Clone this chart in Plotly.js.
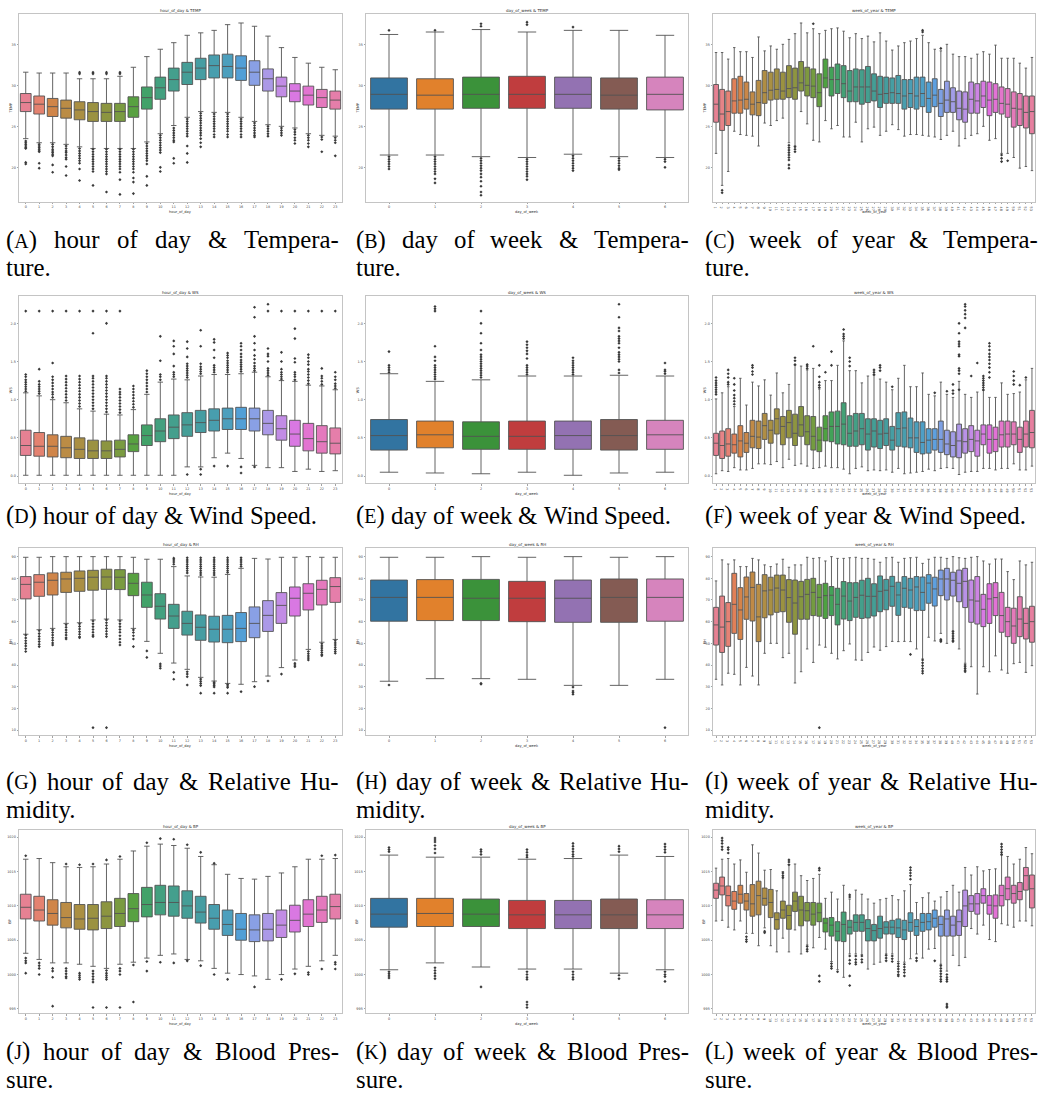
<!DOCTYPE html>
<html><head><meta charset="utf-8">
<script src="https://cdn.plot.ly/plotly-3.0.1.min.js"></script>
<style>html,body{margin:0;padding:0;background:#fff}#chart{width:1038px;height:1094px}</style>
</head><body><div id="chart"></div>
<script>
// ================= DATA =================
const hourLabels = ['0','1','2','3','4','5','6','7','8','9','10','11','12','13','14','15','16','17','18','19','20','21','22','23'];
const dayLabels = ['0','1','2','3','4','5','6'];
const weekLabels = ['1','2','3','4','5','6','7','8','9','10','11','12','13','14','15','16','17','18','19','20',
 '21','22','23','24','25','26','27','28','29','30','31','32','33','34','35','36','37','38','39','40',
 '41','42','43','44','45','46','47','48','49','50','51','52','53'];

// ---- (A) hour_of_day & TEMP
const tempHourLow  = [23.5,23.0,23.0,22.8,22.5,22.3,22.3,22.3,22.3,23.1,24.1,25.1,26.1,26.8,26.7,26.7,26.1,25.6,25.2,25.0,24.8,24.1,23.9,23.8];
const tempHourQ1   = [26.8,26.5,26.2,26.0,25.8,25.6,25.6,25.6,26.1,27.1,28.3,29.3,30.1,30.7,30.9,30.9,30.6,30.0,29.3,28.6,28.0,27.6,27.3,27.1];
const tempHourMed  = [27.9,27.7,27.4,27.2,27.0,26.8,26.7,26.8,27.4,28.5,29.7,30.7,31.6,32.1,32.4,32.3,32.1,31.6,30.8,29.9,29.3,28.8,28.5,28.2];
const tempHourQ3   = [29.0,28.7,28.4,28.2,28.0,27.9,27.8,27.8,28.6,29.8,31.0,32.1,32.8,33.3,33.7,33.8,33.6,33.0,32.0,31.0,30.2,29.9,29.5,29.3];
const tempHourHigh = [31.6,31.5,31.5,31.5,30.8,30.8,30.8,31.1,32.2,33.5,34.4,35.2,36.1,36.4,36.7,37.4,37.6,37.2,36.0,34.6,33.4,32.7,32.2,31.9];
const tempHourOut = [
 [23.2,23.0,22.8,22.6,22.4,22.3,20.6,20.4],
 [22.8,22.6,22.4,22.2,22.0,21.9,20.5,19.9],
 [22.8,22.5,22.2,22.0,21.8,21.6,21.4,20.3,19.4],
 [22.6,22.3,22.0,21.8,21.5,21.2,21.0,20.1,19.0],
 [31.6,31.4,22.3,22.0,21.7,21.4,21.1,20.8,20.5,19.8,18.4],
 [31.6,31.4,22.2,21.9,21.6,21.3,21.0,20.7,20.4,20.1,19.8,19.5,17.8],
 [31.6,31.4,22.2,21.9,21.6,21.3,21.0,20.7,20.4,20.1,19.8,19.5,19.2,17.0],
 [31.6,31.4,22.2,21.9,21.6,21.3,21.0,20.7,20.4,20.1,19.8,19.4,18.5,16.7],
 [22.2,21.9,21.6,21.3,21.0,20.7,20.4,20.1,19.8,19.4,18.7,18.2,16.8],
 [22.9,22.6,22.3,22.0,21.7,21.4,21.1,20.8,20.4,18.9,17.8],
 [23.9,23.6,23.3,23.0,22.7,22.4,22.1,21.8,20.0,19.5],
 [24.8,24.5,24.2,23.9,23.6,23.3,23.1,21.1,20.5],
 [25.9,25.6,25.3,25.0,24.7,24.4,24.1,23.8,22.6,21.7,20.6],
 [26.6,26.3,26.0,25.7,25.4,25.1,24.8,24.5,24.2,23.9,23.5,23.0,22.5],
 [26.5,26.2,25.9,25.6,25.3,25.0,24.7,24.4,24.0,23.7],
 [26.5,26.2,25.9,25.6,25.3,25.0,24.7,24.4,24.0,23.7],
 [25.9,25.6,25.3,25.0,24.7,24.4,24.0,23.7],
 [25.4,25.1,24.8,24.5,24.2,23.9,23.7],
 [25.0,24.7,24.4,24.1,23.8],
 [24.8,24.5,24.2,23.9],
 [24.6,24.3,24.0,23.6,23.3,22.9],
 [23.9,23.6,23.3,22.9,22.5],
 [23.7,23.4,21.9],
 [23.6,23.3,23.0,21.4]];

// ---- (B) day_of_week & TEMP
const tempDayLow  = [21.5,21.5,21.3,21.2,21.6,21.3,21.2];
const tempDayQ1   = [27.1,27.1,27.2,27.2,27.2,27.1,27.0];
const tempDayMed  = [28.9,28.8,28.9,28.9,28.9,28.8,28.9];
const tempDayQ3   = [30.9,30.8,31.0,31.1,31.0,30.9,31.0];
const tempDayHigh = [36.2,36.5,36.8,36.5,36.7,36.7,36.1];
const tempDayOut = [
 [36.7,21.3,21.0,20.7,20.4,20.1,19.8],
 [36.7,21.3,21.0,20.7,20.4,20.1,19.8,19.5,19.2,18.6,18.1],
 [37.5,37.2,21.1,20.8,20.5,20.2,19.9,19.6,19.2,18.8,18.3,17.7,17.0,16.6],
 [37.7,37.4,21.0,20.7,20.4,20.1,19.8,19.5,19.2,18.9,18.5],
 [37.1,21.4,21.1,20.8,20.5,20.2,19.9,19.6],
 [21.1,20.8,20.5,20.2,19.9,19.7],
 [21.0,20.7,20.0]];

// ---- (C) week_of_year & TEMP
const tempWeekLow = [21.7,17.8,19.5,24.4,24.0,23.9,23.8,22.6,25.4,25.1,
 25.7,26.0,23.0,22.6,26.8,25.3,23.3,23.1,25.7,24.7,
 25.1,23.7,23.7,25.5,23.1,24.7,24.9,23.9,24.4,25.2,
 24.6,23.8,24.0,24.0,23.9,23.8,23.7,23.4,23.9,24.4,
 22.6,23.5,23.9,24.1,25.0,23.3,23.5,21.7,21.7,21.2,
 19.9,20.1,19.6];
const tempWeekQ1 = [25.5,24.5,25.1,26.6,26.6,27.1,26.4,26.3,27.8,28.2,
 28.3,28.3,28.5,28.3,29.3,28.7,28.5,27.4,29.7,28.7,
 29.0,28.5,28.0,28.0,27.7,27.9,28.1,27.3,27.8,27.8,
 27.8,27.1,27.3,27.1,27.4,26.7,27.4,26.2,26.7,26.7,
 25.8,25.5,26.6,26.6,27.3,26.3,26.7,26.5,26.1,24.9,
 25.1,24.8,24.1];
const tempWeekMed = [27.7,26.5,26.8,28.1,28.2,28.3,27.7,27.9,29.1,29.4,
 29.5,29.3,29.6,29.7,30.3,30.0,29.9,29.1,30.9,30.7,
 30.7,30.2,29.3,29.8,29.8,29.8,29.3,28.9,29.0,29.1,
 29.0,28.7,29.0,28.7,29.0,28.4,28.8,27.8,28.2,28.0,
 27.2,27.1,28.3,28.1,28.7,28.2,28.3,27.8,27.7,27.2,
 27.1,26.7,26.8];
const tempWeekQ3 = [30.1,29.5,29.3,30.8,31.1,30.4,29.2,30.6,31.8,31.6,
 32.0,31.6,32.4,32.1,32.9,32.2,32.0,31.4,33.2,32.2,
 32.6,32.4,31.8,32.0,31.9,32.3,31.4,31.1,31.0,30.9,
 31.2,30.7,30.7,31.0,31.0,30.4,30.8,29.5,30.5,29.7,
 29.3,29.2,30.4,30.2,30.5,30.4,30.2,29.8,29.6,29.2,
 29.0,28.7,28.7];
const tempWeekHigh = [34.0,34.0,33.2,34.6,34.1,34.1,33.4,35.9,34.2,34.8,
 34.4,35.0,35.6,36.3,37.6,36.4,36.9,36.3,36.7,36.9,
 37.0,36.6,35.8,36.3,35.7,36.0,35.3,36.4,35.4,34.3,
 34.8,35.2,35.4,35.7,36.1,35.2,34.4,34.2,35.0,33.8,
 33.5,33.5,33.3,33.8,34.1,33.8,34.9,33.3,33.3,33.3,
 32.7,32.1,33.4];
const tempWeekOut = {1:[17.2,16.9], 12:[22.7,22.4,22.1,21.8,21.5,21.2,20.9,20.3,19.9], 13:[22.5,22.2,21.9],
 16:[37.5], 34:[36.7,36.5], 37:[34.5], 47:[21.5,21.1,20.7], 48:[20.8]};

// ---- (D) hour_of_day & WS
const wsHourLow  = [0.01,0.01,0.01,0.01,0.01,0.01,0.01,0.01,0.01,0.01,0.01,0.01,0.12,0.12,0.24,0.30,0.23,0.14,0.11,0.11,0.06,0.09,0.06,0.07];
const wsHourQ1   = [0.27,0.26,0.25,0.24,0.23,0.23,0.23,0.25,0.32,0.40,0.45,0.49,0.52,0.57,0.59,0.61,0.61,0.59,0.54,0.47,0.39,0.33,0.30,0.29];
const wsHourMed  = [0.40,0.39,0.39,0.37,0.35,0.33,0.33,0.35,0.42,0.53,0.59,0.64,0.67,0.70,0.73,0.75,0.75,0.75,0.69,0.62,0.55,0.49,0.45,0.43];
const wsHourQ3   = [0.60,0.57,0.54,0.52,0.50,0.47,0.46,0.47,0.54,0.67,0.75,0.80,0.83,0.86,0.88,0.89,0.90,0.89,0.86,0.79,0.73,0.69,0.66,0.63];
const wsHourHigh = [1.09,1.05,1.00,0.96,0.88,0.85,0.81,0.80,0.87,1.07,1.23,1.27,1.26,1.31,1.33,1.33,1.34,1.36,1.30,1.25,1.24,1.19,1.18,1.13];
const wsHourOut = [
 [1.11,1.14,1.17,1.20,1.23,1.26,1.30,1.33,2.16],
 [1.08,1.11,1.14,1.17,1.20,1.24,1.40,2.16],
 [1.03,1.07,1.10,1.14,1.18,1.22,1.26,1.30,1.48,2.16],
 [0.99,1.03,1.07,1.11,1.15,1.19,1.23,1.27,1.31,2.16],
 [0.91,0.95,0.99,1.03,1.07,1.11,1.15,1.19,1.23,1.27,1.31,2.16],
 [0.88,0.92,0.96,1.00,1.04,1.08,1.12,1.16,1.20,1.24,1.28,1.31,1.87,2.16],
 [0.84,0.88,0.92,0.96,1.00,1.04,1.08,1.12,1.16,1.20,1.24,1.28,1.31,2.00,2.16],
 [0.83,0.87,0.91,0.95,0.99,1.03,1.07,1.10,1.14,2.16],
 [0.90,0.94,0.98,1.02,1.06,1.10,1.14,1.18],
 [1.10,1.14,1.18,1.22,1.26,1.30,1.34,1.38],
 [1.26,1.30,1.33,1.51,1.83],
 [1.30,1.33,1.36,1.44,1.60,1.70,1.77],
 [1.29,1.32,1.35,1.38,1.41,1.44,1.47,1.56,1.67,1.76,0.02],
 [1.34,1.37,1.40,1.43,1.47,1.70,1.91,0.09,0.02],
 [1.36,1.39,1.42,1.45,1.55,1.65,1.75,1.79,0.13],
 [1.36,1.39,1.42,1.45,1.48,1.51,1.55,1.58,1.61,0.13],
 [1.37,1.40,1.43,1.46,1.49,1.52,1.56,1.60,1.65,1.70,1.74,0.12,0.04],
 [1.38,1.41,1.44,1.48,1.53,1.58,1.65,1.74,1.83,2.08,2.21,0.12],
 [1.32,1.35,1.38,1.41,1.50,1.57,1.60,1.67,2.16,2.25],
 [1.27,1.30,1.33,1.36,1.40,1.50,1.62,2.16],
 [1.26,1.30,1.33,1.36,1.49,1.54,1.80,1.93,2.16],
 [1.21,1.25,1.29,1.33,1.37,1.40,1.46,1.50,1.55,1.59,2.16],
 [1.20,1.24,1.28,1.31,1.41,2.16],
 [1.15,1.18,1.21,1.26,1.30,1.36,2.16]];

// ---- (E) day_of_week & WS
const wsDayLow  = [0.05,0.04,0.03,0.05,0.01,0.04,0.05];
const wsDayQ1   = [0.34,0.37,0.35,0.35,0.35,0.34,0.35];
const wsDayMed  = [0.53,0.54,0.52,0.52,0.53,0.53,0.54];
const wsDayQ3   = [0.74,0.72,0.71,0.72,0.72,0.74,0.73];
const wsDayHigh = [1.34,1.24,1.26,1.31,1.31,1.32,1.31];
const wsDayOut = [
 [1.36,1.39,1.42,1.45,1.63],
 [1.27,1.30,1.33,1.36,1.39,1.42,1.45,1.51,1.56,1.70,2.16,2.19,2.22],
 [1.29,1.32,1.35,1.38,1.41,1.44,1.47,1.50,1.53,1.56,1.59,1.65,1.74,1.87,2.00,2.16],
 [1.33,1.36,1.39,1.42,1.45,1.54,1.60,1.64,1.68,1.72,1.76],
 [1.33,1.36,1.39,1.42,1.45,1.48,1.51,1.55],
 [1.35,1.39,1.50,1.53,1.56,1.59,1.62,1.68,1.74,1.77,1.80,1.83,1.90,1.94,2.08,2.25],
 [1.34,1.37,1.39,1.48]];

// ---- (F) week_of_year & WS
const wsWeekLow = [0.03,0.07,0.06,0.11,0.08,0.08,0.10,0.16,0.16,0.15,
 0.19,0.11,0.22,0.14,0.16,0.13,0.10,0.11,0.13,0.11,
 0.11,0.09,0.03,0.10,0.12,0.07,0.08,0.07,0.08,0.05,
 0.10,0.03,0.04,0.05,0.06,0.09,0.07,0.10,0.11,0.10,
 0.02,0.05,0.06,0.06,0.10,0.10,0.08,0.10,0.10,0.16,
 0.08,0.08,0.13];
const wsWeekQ1 = [0.27,0.23,0.26,0.30,0.25,0.31,0.37,0.36,0.48,0.43,
 0.55,0.41,0.50,0.40,0.52,0.41,0.34,0.32,0.46,0.45,
 0.42,0.41,0.39,0.39,0.41,0.34,0.38,0.36,0.40,0.34,
 0.39,0.38,0.37,0.31,0.29,0.30,0.34,0.31,0.28,0.25,
 0.24,0.30,0.32,0.26,0.41,0.30,0.32,0.38,0.38,0.41,
 0.31,0.38,0.37];
const wsWeekMed = [0.43,0.40,0.42,0.41,0.46,0.43,0.52,0.51,0.66,0.60,
 0.75,0.65,0.70,0.56,0.67,0.58,0.52,0.47,0.62,0.65,
 0.65,0.68,0.56,0.59,0.62,0.55,0.59,0.55,0.56,0.47,
 0.62,0.63,0.50,0.50,0.44,0.47,0.48,0.48,0.42,0.40,
 0.46,0.45,0.48,0.46,0.55,0.48,0.48,0.54,0.55,0.55,
 0.48,0.55,0.57];
const wsWeekQ3 = [0.56,0.59,0.62,0.55,0.66,0.57,0.73,0.72,0.82,0.73,
 0.88,0.78,0.86,0.81,0.91,0.79,0.78,0.64,0.79,0.84,
 0.85,0.96,0.79,0.82,0.82,0.75,0.75,0.73,0.75,0.65,
 0.83,0.84,0.76,0.71,0.71,0.62,0.62,0.72,0.60,0.58,
 0.68,0.62,0.66,0.60,0.67,0.67,0.64,0.72,0.72,0.71,
 0.64,0.72,0.86];
const wsWeekHigh = [1.01,1.09,1.17,0.91,1.28,0.93,1.23,1.18,1.26,1.06,
 1.35,1.09,1.20,1.45,1.44,1.39,1.41,1.14,1.25,1.25,
 1.45,1.77,1.38,1.38,1.22,1.31,1.32,1.27,1.23,1.13,
 1.28,1.45,1.17,1.17,1.35,1.07,1.05,1.23,1.07,1.03,
 1.24,1.07,1.03,1.10,1.12,1.03,1.03,1.22,1.07,1.08,
 1.10,1.26,1.41];
const wsWeekOut = {0:[1.07,1.10,1.13,1.16,1.19,1.22,1.25,1.29], 2:[1.20,1.23,1.29,1.34,1.39],
 3:[0.94,0.98,1.02,1.06,1.12,1.20,1.28], 6:[1.33,1.37,1.42,1.45], 13:[1.46,1.51,1.55],
 15:[1.41,1.44,1.46], 16:[1.70], 17:[1.16,1.19,1.23,1.30,1.45], 18:[1.36], 19:[1.45,1.63],
 21:[1.80,1.83,1.86,1.92], 22:[1.44,1.50,1.55], 26:[1.33,1.36,1.39], 27:[1.38,1.42,1.45],
 29:[1.17], 36:[1.09], 38:[1.11], 39:[1.08,1.12,1.20],
 40:[1.13,1.34,1.38,1.41,1.57,1.59,1.70,1.73,1.76,1.87,2.00], 41:[1.94,2.07,2.12,2.17,2.22,2.25],
 42:[1.31], 43:[1.48], 44:[1.13,1.16,1.19,1.22,1.25,1.28,1.31],
 45:[1.29,1.36,1.42,1.47,1.52,1.56,1.60,1.65,1.70,1.74], 49:[1.20,1.25,1.31,1.37], 50:[1.19], 51:[1.29]};

// ---- (G) hour_of_day & RH
const rhHourLow  = [54.2,56.3,56.9,59.2,59.5,60.8,61.2,60.8,56.9,50.9,45.4,40.9,38.0,34.3,32.6,31.5,31.1,32.3,34.9,38.8,42.3,47.2,50.5,51.8];
const rhHourQ1   = [70.5,71.7,72.3,73.5,74.0,74.5,74.9,74.8,72.0,66.6,61.2,56.9,53.8,51.4,50.6,50.3,50.8,52.6,55.5,59.2,62.6,65.4,67.7,68.9];
const rhHourMed  = [77.2,78.2,79.1,79.7,80.0,80.5,80.6,80.5,77.7,72.3,67.1,62.6,59.2,57.4,56.5,56.5,56.9,59.2,62.9,67.5,70.8,73.1,74.9,76.2];
const rhHourQ3   = [80.8,81.7,82.5,82.8,83.4,83.7,84.2,84.0,82.3,78.2,72.9,68.0,64.8,63.1,62.5,62.9,64.2,66.8,69.7,73.4,76.0,77.5,79.1,80.3];
const rhHourHigh = [89.7,89.7,90.0,90.0,90.0,90.0,90.0,90.0,89.7,88.8,88.8,85.4,81.1,80.6,80.5,81.8,84.6,89.2,88.9,89.7,89.7,90.0,89.7,89.7];
const rhHourOut = [
 [53.8,52.5,51.2,50.0,48.8,47.5,46.2],
 [55.8,54.5,53.2,52.0,50.8,49.6,48.5],
 [56.2,55.0,53.8,52.6,51.4,50.2,49.2],
 [58.6,57.4,56.2,55.0,53.8,52.6,52.0],
 [59.0,57.8,56.6,55.4,54.2,53.0,52.6],
 [60.3,59.0,57.7,56.4,55.1,53.8,53.1,11.1],
 [60.8,59.5,58.2,56.9,55.6,54.3,53.1,11.1],
 [60.3,59.0,57.7,56.4,55.1,53.5,52.0,50.5,49.2],
 [56.2,55.0,53.5,52.0,48.5],
 [46.5,43.5],
 [40.5,39.5,38.5],
 [89.3,88.5,87.5,86.5,36.6,33.4],
 [89.5,88.5,87.5,86.5,85.5,84.5,83.5,82.5,36.9,35.8,34.6,30.8],
 [89.5,88.5,87.5,86.5,85.5,84.5,83.5,82.5,81.5,33.5,32.5,31.5,30.5,27.0],
 [89.5,88.5,87.5,86.5,85.5,84.5,83.5,82.5,81.5,32.0,31.3,30.6,29.9,27.0],
 [89.5,88.5,87.5,86.5,85.5,84.5,83.5,82.7,31.0,30.3,29.6,27.0],
 [89.5,88.5,87.5,86.5,85.5,27.7],
 [30.0],
 [32.6],
 [35.8],
 [40.8,40.0,39.2],
 [46.2,45.2,44.2,43.2,42.3],
 [49.8,48.8,47.8,46.8,45.8,44.8,44.3],
 [51.2,50.2,49.2,48.2,47.2,46.2,45.4]];

// ---- (H) day_of_week & RH
const rhDayLow  = [32.5,33.7,33.7,33.4,30.6,30.6,33.4];
const rhDayQ1   = [60.2,60.5,60.5,60.0,59.7,59.7,60.2];
const rhDayMed  = [71.2,71.2,70.8,70.8,70.8,71.2,71.2];
const rhDayQ3   = [79.2,79.4,79.5,78.6,79.2,79.7,79.7];
const rhDayHigh = [89.7,89.7,90.0,89.7,90.0,89.7,90.0];
const rhDayOut = {0:[30.8], 2:[31.5,31.2], 4:[29.8,28.0,27.3,26.5], 6:[11.1]};

// ---- (I) week_of_year & RH
const rhWeekLow = [33.4,30.8,36.2,35.7,30.8,38.9,34.9,30.8,45.4,50.0,
 50.0,43.4,45.4,31.7,36.9,47.4,41.2,49.2,48.2,45.4,
 42.8,46.6,49.7,42.3,42.2,45.8,48.3,46.8,48.5,50.9,
 50.8,50.9,50.8,47.4,42.8,52.8,51.1,54.6,50.0,55.7,
 47.4,40.8,39.2,26.6,39.2,36.9,44.2,37.7,36.2,40.6,
 41.2,36.6,39.7];
const rhWeekQ1 = [49.2,45.8,48.6,54.6,51.8,61.1,60.3,50.8,61.8,63.1,
 64.3,64.6,59.7,54.2,61.1,61.1,62.8,62.5,61.5,62.8,
 58.5,61.2,60.5,62.0,61.5,61.7,62.6,64.6,65.5,67.1,
 62.9,66.6,66.2,65.1,65.2,68.5,67.2,72.0,70.0,71.8,
 69.2,66.5,59.7,58.9,57.7,59.2,62.8,55.1,53.1,50.0,
 53.1,52.0,50.5];
const rhWeekMed = [58.5,57.5,60.0,68.0,65.4,71.4,75.8,62.2,74.2,74.6,
 75.5,74.6,71.1,68.6,71.5,72.6,73.5,71.2,72.0,72.2,
 68.0,71.8,69.5,71.2,72.2,71.7,71.7,74.0,74.5,76.3,
 72.3,75.4,74.6,76.0,73.5,77.8,75.1,79.7,79.7,79.1,
 77.7,78.6,70.0,69.5,65.7,70.5,71.1,62.8,60.0,58.0,
 61.2,59.2,60.0];
const rhWeekQ3 = [66.6,71.8,68.8,82.3,75.7,80.6,82.9,77.2,81.7,80.5,
 81.5,81.5,79.4,79.2,78.6,79.5,80.0,77.2,77.7,76.2,
 75.4,78.5,78.0,78.0,79.1,80.0,77.5,81.1,79.5,80.9,
 78.2,80.8,80.0,80.8,80.6,81.7,80.5,83.8,84.6,82.8,
 83.8,84.6,79.2,80.8,72.6,77.5,78.0,73.5,66.6,66.2,
 71.5,66.2,67.1];
const rhWeekHigh = [78.8,88.5,86.6,88.5,85.4,85.4,89.2,88.5,86.2,85.4,
 86.6,88.8,85.1,86.2,86.2,89.7,89.2,89.5,88.0,90.0,
 89.2,89.2,89.5,89.7,89.2,89.2,88.8,87.4,89.5,89.7,
 87.4,89.2,89.5,89.7,86.9,88.8,89.7,89.7,89.2,90.0,
 89.5,89.2,89.7,90.0,88.0,86.6,88.9,88.9,83.1,79.4,
 88.0,86.2,87.4];
const rhWeekOut = {17:[11.1], 32:[44.9], 34:[42.3,41.0,39.7,38.4,37.2,36.2], 37:[51.8,51.3,50.8],
 39:[55.4,54.4,53.4,52.4,51.4,50.8], 41:[40.0,39.2,38.4,37.6,36.9]};

// ---- (J) hour_of_day & BP
const bpHourLow  = [1003.1,1002.2,1001.7,1001.7,1001.5,1001.2,1000.9,1001.5,1001.8,1002.4,1002.8,1003.0,1002.2,1002.0,1000.9,1000.2,1000.0,999.8,999.3,1000.0,1000.8,1001.2,1002.0,1002.8];
const bpHourQ1   = [1008.1,1007.8,1007.2,1006.8,1006.6,1006.5,1006.7,1007.0,1007.7,1008.4,1008.7,1008.5,1008.2,1007.5,1006.6,1005.7,1005.0,1004.8,1004.9,1005.4,1006.2,1007.0,1007.6,1008.1];
const bpHourMed  = [1009.8,1009.4,1008.9,1008.3,1008.1,1008.2,1008.5,1008.9,1009.6,1010.2,1010.5,1010.5,1010.0,1009.1,1008.2,1007.3,1006.6,1006.5,1006.6,1007.2,1007.9,1008.8,1009.4,1009.9];
const bpHourQ3   = [1011.7,1011.4,1010.9,1010.5,1010.2,1010.2,1010.6,1011.1,1011.8,1012.7,1013.0,1012.9,1012.2,1011.4,1010.2,1009.4,1008.9,1008.7,1008.9,1009.4,1010.1,1010.9,1011.4,1011.7];
const bpHourHigh = [1016.8,1016.9,1016.3,1015.7,1015.6,1015.7,1016.1,1016.8,1018.0,1018.7,1019.0,1018.8,1018.4,1017.2,1016.0,1014.6,1014.0,1013.9,1014.3,1014.8,1015.7,1016.8,1016.8,1016.9];
const bpHourOut = {0:[1017.3,1002.4,1002.0,1001.7,1000.2], 1:[1001.7,1001.3,1000.9,1000.0], 2:[1000.9,1000.5,999.6,995.4],
 3:[1016.1,1000.9,1000.5,1000.1,999.7,999.5], 4:[1016.0,1000.2,999.9,999.6,999.3],
 5:[1016.1,1000.5,1000.1,999.7,999.3,998.9,995.2], 6:[1016.7,1000.6,1000.2,999.9,999.6,999.3,995.2],
 7:[1017.2,1000.9,1000.5,1000.0,995.2], 8:[1001.4,996.0], 9:[1019.2,1001.9,1000.5], 10:[1019.8,1001.8],
 11:[1019.7,1001.7], 12:[1018.9,1002.0], 13:[1017.8,1001.3], 14:[1016.2,1000.0], 15:[999.3], 17:[998.2],
 19:[999.3], 20:[1000.1], 21:[1000.3,1000.0], 22:[1017.3,1000.8], 23:[1017.4,1001.8,1001.5,1000.8]};

// ---- (K) day_of_week & BP
const bpDayLow  = [1000.7,1001.7,1001.1,1000.8,1000.8,1000.2,1000.7];
const bpDayQ1   = [1006.9,1007.0,1007.0,1006.7,1006.7,1006.7,1006.7];
const bpDayMed  = [1008.8,1008.9,1008.8,1008.7,1008.7,1008.7,1008.7];
const bpDayQ3   = [1011.1,1011.1,1011.0,1010.8,1010.8,1011.0,1010.9];
const bpDayHigh = [1017.4,1017.1,1017.1,1016.8,1016.9,1017.4,1017.2];
const bpDayOut = [
 [1018.5,1018.2,1017.9,1000.4,1000.1,999.8,999.5],
 [1019.9,1019.6,1019.3,1018.8,1018.3,1017.7,1001.0,1000.6,1000.2,999.8,999.4],
 [1018.2,1017.9,1017.5,998.2],
 [1018.2,1017.8,1017.4,1017.1,1000.4,1000.0,999.6,999.3,996.0,995.6,995.2],
 [1019.1,1018.7,1018.3,1017.9,1017.5,1017.2,1000.4,1000.0,999.6,999.3],
 [1018.7,1018.3,1017.9,999.9,999.4],
 [1019.0,1018.6,1018.2,1017.8,1000.4,1000.0,999.7,999.0]];

// ---- (L) week_of_year & BP
const bpWeekLow = [1007.8,1007.9,1006.9,1006.5,1007.8,1006.0,1006.0,1004.2,1006.8,1004.2,
 1003.3,1005.3,1003.3,1006.5,1003.0,1004.3,1003.9,1005.4,1003.7,1001.9,
 1000.7,999.6,1003.0,1003.0,1002.9,1000.8,1001.5,1001.8,1003.0,1003.0,
 1001.9,1001.8,1002.3,1003.0,1002.4,1003.7,1003.8,1001.5,1000.5,1002.8,
 1001.3,1002.5,1006.7,1005.9,1007.2,1005.1,1004.8,1007.4,1007.2,1006.9,
 1007.8,1007.8,1007.1];
const bpWeekQ1 = [1011.1,1011.6,1010.0,1009.5,1010.4,1009.4,1008.5,1008.7,1010.1,1008.3,
 1006.6,1008.2,1006.6,1009.2,1007.1,1007.8,1007.2,1007.7,1006.2,1005.6,
 1004.9,1004.8,1005.9,1006.3,1006.3,1004.9,1004.9,1005.3,1005.9,1005.9,
 1005.4,1005.1,1006.3,1005.7,1006.3,1006.5,1006.9,1005.6,1005.6,1005.6,
 1005.7,1007.0,1009.2,1008.8,1010.4,1008.8,1008.2,1010.0,1010.9,1010.4,
 1010.9,1012.3,1009.7];
const bpWeekMed = [1012.3,1012.9,1011.5,1010.7,1011.7,1010.7,1010.3,1011.5,1011.1,1010.5,
 1008.0,1009.4,1008.6,1010.7,1009.4,1009.3,1008.8,1009.0,1007.5,1007.2,
 1006.3,1007.3,1006.9,1007.6,1007.6,1006.7,1006.4,1006.7,1006.9,1006.9,
 1006.8,1006.5,1007.6,1007.0,1007.6,1007.7,1008.2,1007.3,1008.1,1007.2,
 1007.7,1010.0,1010.3,1010.3,1011.5,1010.1,1010.0,1011.5,1012.5,1011.8,
 1012.1,1014.4,1012.5];
const bpWeekQ3 = [1013.3,1014.2,1012.9,1012.1,1013.0,1011.8,1013.1,1013.6,1012.6,1012.4,
 1009.0,1010.7,1010.1,1012.0,1011.4,1010.5,1010.5,1010.4,1008.2,1008.3,
 1007.7,1009.1,1007.9,1008.7,1008.7,1008.0,1007.3,1008.5,1007.7,1007.9,
 1008.1,1007.9,1009.0,1008.0,1008.9,1008.9,1009.4,1008.5,1009.4,1008.5,
 1009.4,1012.3,1011.5,1011.8,1012.5,1011.5,1011.6,1013.0,1014.2,1013.0,
 1013.4,1015.6,1014.5];
const bpWeekHigh = [1015.5,1016.8,1016.9,1016.1,1016.7,1014.9,1018.9,1017.7,1015.2,1015.3,
 1012.2,1015.0,1016.0,1016.1,1014.4,1013.7,1014.0,1014.6,1011.1,1012.0,
 1011.0,1013.0,1011.0,1012.3,1011.7,1011.0,1010.4,1010.9,1011.1,1011.5,
 1010.9,1012.2,1013.1,1010.5,1011.2,1011.9,1010.7,1011.3,1012.1,1013.0,
 1012.0,1015.6,1014.5,1015.7,1015.1,1015.3,1015.4,1017.4,1017.2,1016.1,
 1016.8,1018.5,1017.6];
const bpWeekOut = {1:[1019.9,1019.5,1019.1,1018.6,1018.2], 2:[1018.5,1018.2,1017.7], 5:[1005.5,1005.1,1004.8],
 8:[1006.3,1006.1], 11:[1014.8,1014.4,1014.1], 12:[1016.7,1016.4,1016.0], 15:[1004.1,1003.7,1003.4],
 17:[1015.5,1015.2,999.8,999.0], 19:[1001.6,1001.2,1000.9], 20:[1000.4],
 22:[1011.6,1011.3,1002.7,1002.1,1001.6,999.8,998.4], 23:[1002.7,1002.2,1001.8,1001.5], 24:[1002.7,1002.2,1001.8],
 28:[1002.8,1002.4,1002.0], 29:[1002.7,1002.3,1001.9], 30:[1001.6,1001.2,1000.8,1000.4,1000.0,999.8],
 31:[1001.5,1001.1,1000.7,1000.3,999.8], 32:[1015.6,1015.2,1014.8,1014.4,1013.9], 33:[1002.4,1002.0],
 36:[1002.0], 37:[1001.3,1000.9,1000.5,1000.1,999.7,999.3,999.0], 38:[1000.0,999.6,999.3,999.0,995.7,995.4,995.2],
 47:[1019.0,1018.6,1018.2,1017.8,1017.5]};

// ================= STYLE / COLOURS =================
const HM = [[3.2406,-1.5372,-0.4986],[-0.9689,1.8758,0.0415],[0.0557,-0.2040,1.0570]];
function maxChroma(L,H){
  const hr=H*Math.PI/180, s=Math.sin(hr), c=Math.cos(hr);
  const sub1=Math.pow(L+16,3)/1560896, sub2=sub1>0.008856?sub1:L/903.3;
  let res=Infinity;
  for (const [m1,m2,m3] of HM){
    const top=(0.99915*m1+1.05122*m2+1.14460*m3)*sub2;
    const rb=0.86330*m3-0.17266*m2, lb=0.12949*m3-0.38848*m1;
    const bottom=(rb*s+lb*c)*sub2;
    for (const t of [0,1]){ const C=L*(top-1.05122*t)/(bottom+0.17266*s*t); if(C>0&&C<res) res=C; }
  }
  return res;
}
function huslToRgb(H,S,L){
  const C=maxChroma(L,H)/100*S, hr=H*Math.PI/180, U=Math.cos(hr)*C, V=Math.sin(hr)*C;
  const t=(L+16)/116, t3=t*t*t, Y=t3>0.008856?t3:(116*t-16)/903.3;
  const vu=U/(13*L)+0.19784, vv=V/(13*L)+0.46834;
  const X=-(9*Y*vu)/((vu-4)*vv-vu*vv), Z=(9*Y-15*vv*Y-vv*X)/(3*vv);
  return HM.map(r=>{const v=r[0]*X+r[1]*Y+r[2]*Z; const g=v<=0.0031308?12.92*v:1.055*Math.pow(v,1/2.4)-0.055; return Math.min(1,Math.max(0,g));});
}
function toHls([r,g,b]){
  const mx=Math.max(r,g,b), mn=Math.min(r,g,b), l=(mx+mn)/2;
  if (mx===mn) return [0,l,0];
  const s=l<=0.5?(mx-mn)/(mx+mn):(mx-mn)/(2-mx-mn);
  const rc=(mx-r)/(mx-mn), gc=(mx-g)/(mx-mn), bc=(mx-b)/(mx-mn);
  let h=r===mx?bc-gc:(g===mx?2+rc-bc:4+gc-rc);
  h=((h/6)%1+1)%1; return [h,l,s];
}
function fromHls([h,l,s]){
  if (s===0) return [l,l,l];
  const m2=l<=0.5?l*(1+s):l+s-l*s, m1=2*l-m2;
  const v=hh=>{hh=((hh%1)+1)%1; if(hh<1/6) return m1+(m2-m1)*hh*6; if(hh<0.5) return m2; if(hh<2/3) return m1+(m2-m1)*(2/3-hh)*6; return m1;};
  return [v(h+1/3),v(h),v(h-1/3)];
}
function desat(rgb,p){ const [h,l,s]=toHls(rgb); return fromHls([h,l,s*p]); }
const hex=rgb=>'#'+rgb.map(v=>Math.round(Math.min(1,Math.max(0,v))*255).toString(16).padStart(2,'0')).join('');
function huslPalette(n){
  const out=[]; for(let i=0;i<n;i++){ const h=((i/n)+0.01)%1*359; out.push(desat(huslToRgb(h,89.1,64.35),0.75)); } return out;
}
const tab10 = [[31,119,180],[255,127,14],[44,160,44],[214,39,40],[148,103,189],[140,86,75],[227,119,194]].map(c=>desat(c.map(v=>v/255),0.75));
function edgeGray(pal){ const lum=Math.min(...pal.map(c=>toHls(c)[1]))*0.6+0.08; return hex([lum,lum,lum]); }

// ================= GEOMETRY =================
const W=1038, H=1094;
const colX=[[19,342],[366,688],[713,1035]];
const rowY=[[14.3,201.7],[296,483.3],[548.3,735],[829.7,1013]];
const yRanges=[[15.81,38.66],[-0.095,2.358],[7.7,93.85],[994.4,1021.1]];
const yTicks=[{tick0:0,dtick:5,tickformat:'d'},{tick0:0,dtick:0.5,tickformat:'.1f'},{tick0:0,dtick:10,tickformat:'d'},{tick0:995,dtick:5,tickformat:'d'}];
const px=x=>x/W, py=y=>1-y/H;

const rowsDef=[
 {var:'TEMP', sets:[[hourLabels,tempHourLow,tempHourQ1,tempHourMed,tempHourQ3,tempHourHigh,tempHourOut],
                    [dayLabels,tempDayLow,tempDayQ1,tempDayMed,tempDayQ3,tempDayHigh,tempDayOut],
                    [weekLabels,tempWeekLow,tempWeekQ1,tempWeekMed,tempWeekQ3,tempWeekHigh,tempWeekOut]]},
 {var:'WS', sets:[[hourLabels,wsHourLow,wsHourQ1,wsHourMed,wsHourQ3,wsHourHigh,wsHourOut],
                  [dayLabels,wsDayLow,wsDayQ1,wsDayMed,wsDayQ3,wsDayHigh,wsDayOut],
                  [weekLabels,wsWeekLow,wsWeekQ1,wsWeekMed,wsWeekQ3,wsWeekHigh,wsWeekOut]]},
 {var:'RH', sets:[[hourLabels,rhHourLow,rhHourQ1,rhHourMed,rhHourQ3,rhHourHigh,rhHourOut],
                  [dayLabels,rhDayLow,rhDayQ1,rhDayMed,rhDayQ3,rhDayHigh,rhDayOut],
                  [weekLabels,rhWeekLow,rhWeekQ1,rhWeekMed,rhWeekQ3,rhWeekHigh,rhWeekOut]]},
 {var:'BP', sets:[[hourLabels,bpHourLow,bpHourQ1,bpHourMed,bpHourQ3,bpHourHigh,bpHourOut],
                  [dayLabels,bpDayLow,bpDayQ1,bpDayMed,bpDayQ3,bpDayHigh,bpDayOut],
                  [weekLabels,bpWeekLow,bpWeekQ1,bpWeekMed,bpWeekQ3,bpWeekHigh,bpWeekOut]]}
];
const xNames=['hour_of_day','day_of_week','week_of_year'];

const traces=[], layout={width:W,height:H,margin:{l:0,r:0,t:0,b:0},paper_bgcolor:'#fff',plot_bgcolor:'#fff',
  showlegend:false,annotations:[],boxmode:'overlay'};
const smallFont={family:'DejaVu Sans, sans-serif',size:3.4,color:'#444'};
const palettes={24:huslPalette(24),7:tab10,53:huslPalette(53)};

let k=0;
rowsDef.forEach((rd,r)=>{
  rd.sets.forEach((set,c)=>{
    k++;
    const [labels,lo,q1,md,q3,hi,out]=set;
    const n=labels.length, pal=palettes[n], gray=edgeGray(pal);
    const xa='x'+k, ya='y'+k;
    for(let i=0;i<n;i++){
      traces.push({type:'box',xaxis:xa,yaxis:ya,x:[i],q1:[q1[i]],median:[md[i]],q3:[q3[i]],
        lowerfence:[lo[i]],upperfence:[hi[i]],width:0.8,whiskerwidth:0.5,boxpoints:false,
        fillcolor:hex(pal[i]),line:{color:gray,width:0.9},hoverinfo:'skip',showlegend:false});
    }
    const ox=[],oy=[];
    Object.entries(out).forEach(([i,vals])=>vals.forEach(v=>{ox.push(+i);oy.push(v);}));
    traces.push({type:'scatter',mode:'markers',xaxis:xa,yaxis:ya,x:ox,y:oy,
      marker:{symbol:'diamond',size:2.4,color:'#3a3a3a',line:{width:0}},hoverinfo:'skip',showlegend:false});
    const idx=labels.map((_,i)=>i);
    layout['xaxis'+k]={domain:[px(colX[c][0]),px(colX[c][1])],range:[-0.5,n-0.5],anchor:ya,
      tickmode:'array',tickvals:idx,ticktext:labels,tickfont:smallFont,ticks:'outside',ticklen:1.5,tickwidth:0.6,tickcolor:'#666',
      showgrid:false,zeroline:false,showline:true,mirror:true,linecolor:'#c4c4c4',linewidth:1,fixedrange:true};
    layout['yaxis'+k]=Object.assign({domain:[py(rowY[r][1]),py(rowY[r][0])],range:yRanges[r],anchor:xa,
      tickfont:smallFont,ticks:'outside',ticklen:1.5,tickwidth:0.6,tickcolor:'#666',
      showgrid:false,zeroline:false,showline:true,mirror:true,linecolor:'#c4c4c4',linewidth:1,fixedrange:true},yTicks[r]);
    const cx=(colX[c][0]+colX[c][1])/2;
    layout.annotations.push({xref:'paper',yref:'paper',x:px(cx),y:py(rowY[r][0]-3.4),text:xNames[c]+' &amp; '+rd.var,
      showarrow:false,xanchor:'center',yanchor:'middle',borderpad:0,font:{family:'DejaVu Sans, sans-serif',size:4,color:'#333'}});
    layout.annotations.push({xref:'paper',yref:'paper',x:px(cx),y:py(rowY[r][1]+10.5),text:xNames[c],
      showarrow:false,xanchor:'center',yanchor:'middle',borderpad:0,font:{family:'DejaVu Sans, sans-serif',size:3.6,color:'#333'}});
    layout.annotations.push({xref:'paper',yref:'paper',x:px(colX[c][0]-8.5),y:py((rowY[r][0]+rowY[r][1])/2),text:rd.var,
      showarrow:false,textangle:-90,xanchor:'center',yanchor:'middle',borderpad:0,font:{family:'DejaVu Sans, sans-serif',size:3.6,color:'#333'}});
  });
});

// ================= CAPTIONS =================
const capFamily='Liberation Serif';
const ctx=document.createElement('canvas').getContext('2d');
function tw(s,size){ctx.font=size+'px "'+capFamily+'"';return ctx.measureText(s).width;}
const SC=0.8;
function tokenWidth(tok,S){
  const m=tok.match(/^\((\w)\)$/);
  if(m) return tw('(',S)+tw(m[1],S*SC)+tw(')',S);
  return tw(tok,S);
}
function tokenText(tok,S){
  const m=tok.match(/^\((\w)\)$/);
  if(m) return '(<span style="font-size:'+(S*SC).toFixed(1)+'px">'+m[1]+'</span>)';
  return tok.replace(/&/g,'&amp;');
}
function natWidth(toks,S){return toks.reduce((a,t)=>a+tokenWidth(t,S),0)+tw(' ',S)*(toks.length-1);}
const captions=[
 [[['(A)','hour','of','day','&','Tempera-'],['ture.']],[['(B)','day','of','week','&','Tempera-'],['ture.']],[['(C)','week','of','year','&','Tempera-'],['ture.']]],
 [[['(D)','hour','of','day','&','Wind','Speed.']],[['(E)','day','of','week','&','Wind','Speed.']],[['(F)','week','of','year','&','Wind','Speed.']]],
 [[['(G)','hour','of','day','&','Relative','Hu-'],['midity.']],[['(H)','day','of','week','&','Relative','Hu-'],['midity.']],[['(I)','week','of','year','&','Relative','Hu-'],['midity.']]],
 [[['(J)','hour','of','day','&','Blood','Pres-'],['sure.']],[['(K)','day','of','week','&','Blood','Pres-'],['sure.']],[['(L)','week','of','year','&','Blood','Pres-'],['sure.']]]
];
const capLeft=[5,355,704], capWidth=333;
const rowTwoTargets=[332,336,331];
const S=0.97*Math.min(...captions[1].map((cap,c)=>20*rowTwoTargets[c]/natWidth(cap[0],20)));
const capLineY=[[240,268],[515],[781,809],[1051,1079]];
captions.forEach((rowCaps,r)=>rowCaps.forEach((cap,c)=>{
  cap.forEach((toks,li)=>{
    const widths=toks.map(t=>tokenWidth(t,S));
    const sum=widths.reduce((a,b)=>a+b,0);
    const justify=(li<cap.length-1)&&toks.length>1;
    const gap=justify?(capWidth-sum)/(toks.length-1):tw(' ',S);
    let x=capLeft[c];
    toks.forEach((t,j)=>{
      layout.annotations.push({xref:'paper',yref:'paper',x:px(x),y:py(capLineY[r][li]),text:tokenText(t,S),
        showarrow:false,xanchor:'left',yanchor:'middle',borderpad:0,font:{family:capFamily,size:S,color:'#000'}});
      x+=widths[j]+gap;
    });
  });
}));

Plotly.newPlot('chart',traces,layout,{staticPlot:true,displayModeBar:false});
</script>
</body></html>
